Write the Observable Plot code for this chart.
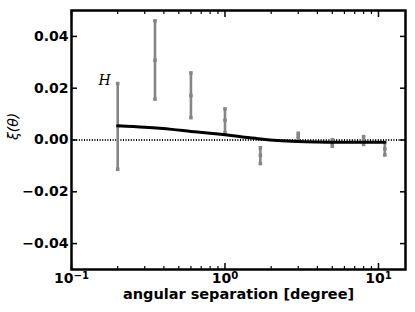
<!DOCTYPE html>
<html>
<head>
<meta charset="utf-8">
<script src="https://cdn.jsdelivr.net/npm/d3@7"></script>
<script src="https://cdn.jsdelivr.net/npm/@observablehq/plot@0.6"></script>
<style>
  body { margin: 0; background: #fff; }
</style>
</head>
<body>
<div id="chart"></div>
<script>
// Measured correlation points
const sep = [0.2, 0.35, 0.6, 1.0, 1.7, 3.0, 5.0, 8.0, 11.0];
const xi  = [0.0053, 0.0308, 0.0172, 0.0076, -0.0059, 0.0015, -0.0012, -0.0002, -0.0034];
const xiHi = [0.0218, 0.0460, 0.0259, 0.0120, -0.0030, 0.0026, 0.0001, 0.0013, -0.0010];
const xiLo = [-0.0113, 0.0158, 0.0086, 0.0028, -0.0091, 0.0005, -0.0024, -0.0017, -0.0058];

// Model curve
const modelX = [0.2, 0.3, 0.45, 0.6, 0.8, 1.0, 1.3, 1.7, 2.2, 3, 4, 5, 7, 9, 11];
const modelY = [0.0055, 0.0049, 0.0041, 0.0033, 0.0026, 0.0020, 0.0012, 0.0004, -0.0002, -0.0006, -0.0008, -0.0009, -0.0009, -0.0009, -0.0009];

// Ticks and labels
const yTicks = [-0.04, -0.02, 0, 0.02, 0.04];
const xMajor = [0.1, 1, 10];
const xMajorLabels = ["10^\u22121", "10^0", "10^1"];
const xMinor = [0.2,0.3,0.4,0.5,0.6,0.7,0.8,0.9,2,3,4,5,6,7,8,9];
const xLabel = "angular separation [degree]";
const yLabel = "ξ(θ)";
const annot = "H";

const points = sep.map((s, i) => ({x: s, y: xi[i], lo: xiLo[i], hi: xiHi[i]}));
const model = modelX.map((s, i) => ({x: s, y: modelY[i]}));

const grey = "#858585";
const fmtY = d => (d < 0 ? "\u2212" : "") + Math.abs(d).toFixed(2);
const fmtX = d => xMajorLabels[xMajor.indexOf(d)] ?? "";

const chart = Plot.plot({
  width: 415,
  height: 312,
  marginLeft: 71,
  marginRight: 10,
  marginTop: 10,
  marginBottom: 43,
  style: {fontFamily: "DejaVu Sans", fontSize: "14px", fontWeight: "bold", background: "#fff"},
  x: {type: "log", domain: [0.1, 15]},
  y: {domain: [-0.05, 0.05]},
  marks: [
    Plot.ruleY([0], {stroke: "#000", strokeWidth: 2, strokeDasharray: "1,1.6"}),
    Plot.ruleX(points, {x: "x", y1: "lo", y2: "hi", stroke: grey, strokeWidth: 2.6}),
    Plot.dot(points, {x: "x", y: "hi", symbol: "square", r: 2, fill: grey}),
    Plot.dot(points, {x: "x", y: "lo", symbol: "square", r: 2, fill: grey}),
    Plot.dot(points, {x: "x", y: "y", symbol: "square", r: 2, fill: grey}),
    Plot.line(model, {x: "x", y: "y", stroke: "#000", strokeWidth: 3, curve: "catmull-rom"}),
    Plot.text([points[0]], {x: "x", y: "hi", text: () => annot, textAnchor: "end", dx: -7, dy: -3,
      fontFamily: "DejaVu Serif", fontStyle: "italic", fontWeight: "normal", fontSize: 14}),
    Plot.axisY({ticks: yTicks, tickSize: -6, tickPadding: 9, tickFormat: fmtY, label: null, strokeWidth: 1.5}),
    Plot.axisY({anchor: "right", ticks: yTicks, tickSize: -6, tickFormat: () => "", label: null, strokeWidth: 1.5}),
    Plot.axisX({ticks: xMajor, tickSize: -6, tickPadding: 10, tickFormat: fmtX, label: null, strokeWidth: 1.5}),
    Plot.axisX({ticks: xMinor, tickSize: -3, tickFormat: () => "", label: null, strokeWidth: 1.2}),
    Plot.axisX({anchor: "top", ticks: xMajor, tickSize: -6, tickFormat: () => "", label: null, strokeWidth: 1.5}),
    Plot.axisX({anchor: "top", ticks: xMinor, tickSize: -3, tickFormat: () => "", label: null, strokeWidth: 1.2}),
    Plot.text([xLabel], {frameAnchor: "bottom", text: d => d, dy: 29, fontSize: 14.5, fontWeight: "bold"}),
    Plot.text([yLabel], {frameAnchor: "left", text: d => d, dx: -58, rotate: -90, fontSize: 14,
      fontWeight: "normal", fontStyle: "italic"}),
    Plot.frame({stroke: "#000", strokeWidth: 2.5})
  ]
});
document.getElementById("chart").appendChild(chart);

// Render "10^e" tick labels with a raised exponent
d3.select(chart).selectAll("text").each(function () {
  const t = this.textContent;
  if (t.startsWith("10^")) {
    const e = t.slice(3);
    const sel = d3.select(this);
    sel.text(null);
    sel.append("tspan").text("10");
    sel.append("tspan").attr("dy", "-0.45em").attr("font-size", "0.72em").text(e);
  }
});
</script>
</body>
</html>
